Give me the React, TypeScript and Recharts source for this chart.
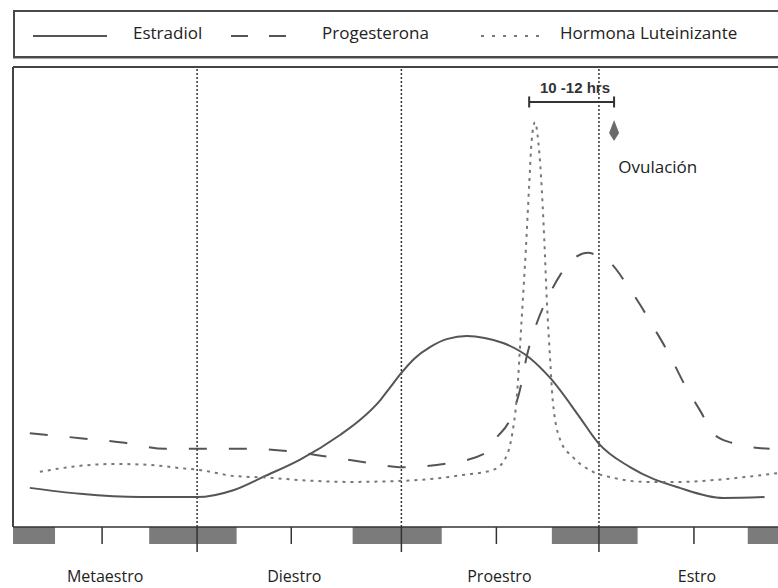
import React from "react"
import { LineChart, Line, XAxis, YAxis, Legend, ReferenceLine, ReferenceArea, ReferenceDot } from "recharts"

// hours from the left edge of the plot, hormone levels in relative units (0-100)
const estradiolHours = [2, 8, 15.1, 21.9, 26.2, 30, 34.1, 38.9, 41.3, 43.7, 44.8, 46.2, 47.8, 49.6, 51.7, 54, 56.1, 58.3, 61.5, 63.9, 67.4, 69.6, 73.4, 79.3, 84.5, 89.4]
const estradiolLevels = [8.5, 7.2, 6.5, 6.5, 8, 11.1, 14.6, 20, 23.3, 27.6, 30.2, 33.5, 36.7, 39.1, 40.9, 41.5, 41.1, 40, 36.7, 32.4, 23.9, 18.3, 13, 8.5, 6.3, 6.5]

const progesteronaHours = [2, 8, 13.3, 18.1, 22.8, 27.6, 32.6, 37.7, 42.5, 46, 52, 56.4, 57.3, 59.1, 60.3, 61.1, 62.3, 63.9, 65.1, 66.8, 68.4, 69.6, 71.3, 72.8, 74.6, 76.4, 78.1, 79.9, 81.7, 83.5, 85.5, 87.7, 90]
const progesteronaLevels = [20.4, 19.3, 18.3, 17, 17, 17, 16.5, 15.2, 13.9, 13, 13.9, 16.3, 18.9, 23.3, 29.8, 37, 44.3, 50.9, 54.8, 58.5, 59.6, 58.9, 57, 53.3, 48.3, 42.8, 37.4, 30.9, 25.4, 20, 18.3, 17.4, 17]

const lhHours = [3.2, 8, 12.1, 16.3, 19.9, 22.2, 26.2, 30.6, 34.1, 40.1, 45.8, 49.6, 53.5, 57.1, 58.3, 59.4, 59.9, 60.5, 61, 61.4, 61.7, 62.1, 62.4, 62.8, 63.2, 63.5, 63.9, 64.2, 65.1, 66.6, 69, 71.4, 75.4, 79.3, 83.3, 87.3, 90.9]
const lhLevels = [12, 13.3, 13.7, 13.5, 12.8, 12.4, 11.1, 10.7, 10.2, 9.8, 10, 10.4, 11.3, 12.4, 14.1, 20.4, 27.6, 45, 60.2, 74.3, 84.1, 88, 85.2, 76.5, 62.4, 49.3, 36.3, 27.6, 18.9, 15.2, 12, 10.7, 9.8, 9.8, 10.2, 10.9, 11.7]

const phaseNames = ["Metaestro", "Diestro", "Proestro", "Estro"]
const phaseMidHours = [10.6, 33.1, 57.5, 81]
const phaseBoundaries = [21.9, 46.2, 69.7]

const darkStart = [0, 16.2, 40.4, 64.1, 87.4]
const darkEnd = [5, 26.6, 51, 74.3, 91]

const lhPeakHour = 61.4
const ovulationHour = 71.5

const zip = (xs: number[], ys: number[]) => xs.map((h, i) => ({ h, v: ys[i] }))
const estradiolData = zip(estradiolHours, estradiolLevels)
const progesteronaData = zip(progesteronaHours, progesteronaLevels)
const lhData = zip(lhHours, lhLevels)

const FONT = "'Open Sans', 'Noto Sans', sans-serif"
const INK = "#555"
const STRIP = -3.7

// legend sample / label placement inside the box
const legendItems = [
  { name: "Estradiol", dash: undefined, color: INK, x: 18, w: 74, tx: 118 },
  { name: "Progesterona", dash: "17 21", color: INK, x: 216, w: 56, tx: 307 },
  { name: "Hormona Luteinizante", dash: "3 8", color: "#777", x: 466, w: 58, tx: 545 },
]

function LegendBox() {
  return (
    <div
      style={{
        position: "relative",
        boxSizing: "border-box",
        width: 790,
        height: 48,
        border: "2px solid #4a4a4a",
        boxShadow: "0 1px 0 #aaa",
        fontFamily: FONT,
        fontSize: 17,
        color: "#222",
      }}
    >
      {legendItems.map((it) => (
        <React.Fragment key={it.name}>
          <svg width={it.w} height={6} style={{ position: "absolute", left: it.x, top: 21 }}>
            <line x1={0} y1={3} x2={it.w} y2={3} stroke={it.color} strokeWidth={2} strokeDasharray={it.dash} />
          </svg>
          <span style={{ position: "absolute", left: it.tx, top: 10, lineHeight: "22px", whiteSpace: "nowrap" }}>{it.name}</span>
        </React.Fragment>
      ))}
    </div>
  )
}

function PhaseTick(props: any) {
  const { x, y, payload } = props
  const idx = phaseMidHours.indexOf(payload.value)
  const isBoundary = phaseBoundaries.includes(payload.value)
  return (
    <g>
      <line x1={x} y1={y - 17} x2={x} y2={isBoundary ? y + 8 : y} stroke="#333" strokeWidth={1.5} />
      {idx >= 0 && (
        <text x={x + 3} y={y + 38} textAnchor="middle" fontFamily={FONT} fontSize={16} fill="#222">
          {phaseNames[idx]}
        </text>
      )}
    </g>
  )
}

export default function App() {
  return (
    <div style={{ position: "absolute", left: 0, top: 0, background: "#fff" }}>
      <LineChart width={778} height={588} margin={{ top: 19, right: 0, bottom: 0, left: 13 }}>
        <XAxis
          dataKey="h"
          type="number"
          domain={[0, 91]}
          allowDataOverflow
          ticks={[...phaseMidHours, ...phaseBoundaries].sort((a, b) => a - b)}
          tick={<PhaseTick />}
          tickSize={0}
          tickMargin={0}
          axisLine={false}
          tickLine={false}
          interval={0}
          height={44}
        />
        <YAxis type="number" domain={[STRIP, 100]} hide />
        <Legend verticalAlign="top" align="left" wrapperStyle={{ top: 10, left: 13, width: 790, height: 48 }} content={() => <LegendBox />} />

        {darkStart.map((s, i) => (
          <ReferenceArea key={s} x1={s} x2={darkEnd[i]} y1={STRIP} y2={0} fill="#7b7b7b" fillOpacity={1} stroke="none" />
        ))}
        <ReferenceLine y={0} stroke="#333" strokeWidth={1.5} />
        <ReferenceLine y={100} stroke="#444" strokeWidth={2} />
        <ReferenceLine segment={[{ x: 0, y: 0 }, { x: 0, y: 100 }]} stroke="#444" strokeWidth={2} />
        {phaseBoundaries.map((b) => (
          <ReferenceLine key={b} segment={[{ x: b, y: 0 }, { x: b, y: 100 }]} stroke="#333" strokeWidth={1.5} strokeDasharray="2 2" />
        ))}

        <Line data={estradiolData} dataKey="v" name="Estradiol" type="monotone" stroke={INK} strokeWidth={2} dot={false} isAnimationActive={false} />
        <Line data={progesteronaData} dataKey="v" name="Progesterona" type="monotone" stroke={INK} strokeWidth={2} strokeDasharray="18 22" dot={false} isAnimationActive={false} />
        <Line data={lhData} dataKey="v" name="Hormona Luteinizante" type="monotone" stroke="#777" strokeWidth={2} strokeDasharray="3 5" dot={false} isAnimationActive={false} />

        {/* 10-12 h gap between LH peak and ovulation */}
        <ReferenceLine segment={[{ x: lhPeakHour, y: 92.4 }, { x: ovulationHour, y: 92.4 }]} stroke="#333" strokeWidth={2} />
        <ReferenceLine segment={[{ x: lhPeakHour, y: 91.2 }, { x: lhPeakHour, y: 93.6 }]} stroke="#333" strokeWidth={2} />
        <ReferenceLine segment={[{ x: ovulationHour, y: 91.2 }, { x: ovulationHour, y: 93.6 }]} stroke="#333" strokeWidth={2} />
        <ReferenceDot
          x={(lhPeakHour + ovulationHour) / 2 + 0.4}
          y={95.4}
          shape={(p: any) => (
            <text x={p.cx} y={p.cy} dy={5} textAnchor="middle" fontFamily="'Liberation Sans', Arial, sans-serif" fontWeight="bold" fontSize={15} fill="#333">
              10 -12 hrs
            </text>
          )}
        />
        <ReferenceDot
          x={ovulationHour}
          y={86.3}
          shape={(p: any) => (
            <path d={`M${p.cx},${p.cy - 10} L${p.cx + 5},${p.cy + 3} L${p.cx},${p.cy + 11} L${p.cx - 5},${p.cy + 3} Z`} fill="#6a6a6a" />
          )}
        />
        <ReferenceDot
          x={76.7}
          y={78.3}
          shape={(p: any) => (
            <text x={p.cx} y={p.cy} dy={6} textAnchor="middle" fontFamily={FONT} fontSize={17} fill="#222">
              Ovulación
            </text>
          )}
        />
      </LineChart>
    </div>
  )
}
